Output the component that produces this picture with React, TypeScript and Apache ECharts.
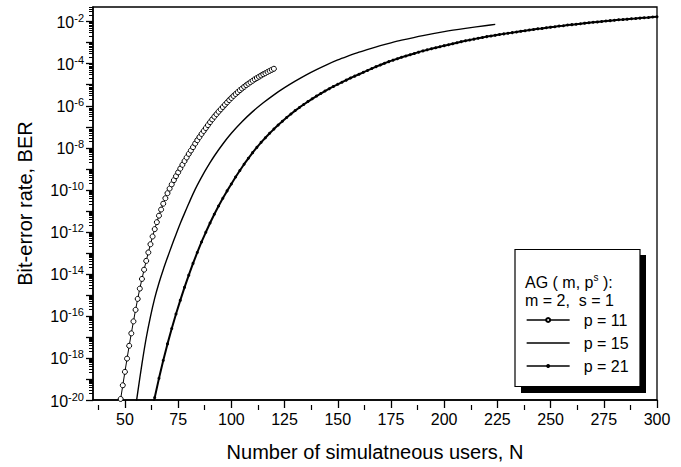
import React, { useEffect, useRef } from "react";
import * as echarts from "echarts";

// ---- data (log10 of BER) ----
const p11N = [48,49,50,51,52,53,54,55,56,57,58,59,60,61,62,63,64,65,66,67,68,69,70,71,72,73,74,75,76,77,78,79,80,81,82,83,84,85,86,87,88,89,90,91,92,93,94,95,96,97,98,99,100,101,102,103,104,105,106,107,108,109,110,111,112,113,114,115,116,117,118,119,120];
const p11LogBer = [-19.95,-19.30,-18.66,-18.03,-17.42,-16.83,-16.26,-15.71,-15.19,-14.70,-14.24,-13.80,-13.38,-12.98,-12.59,-12.22,-11.87,-11.54,-11.23,-10.94,-10.66,-10.40,-10.16,-9.94,-9.74,-9.54,-9.35,-9.17,-8.99,-8.81,-8.63,-8.46,-8.29,-8.13,-7.97,-7.80,-7.64,-7.49,-7.34,-7.20,-7.06,-6.92,-6.78,-6.65,-6.52,-6.40,-6.28,-6.17,-6.06,-5.95,-5.84,-5.73,-5.63,-5.53,-5.44,-5.35,-5.26,-5.18,-5.10,-5.02,-4.95,-4.88,-4.81,-4.74,-4.68,-4.62,-4.56,-4.50,-4.45,-4.39,-4.34,-4.29,-4.24];

const p15N = [55,56,58,60,62,64,66,68,70,72,74,76,78,80,83,87,90,92,96,100,105,110,115,120,125,130,135,140,145,150,155,160,165,170,175,180,190,200,210,220,224];
const p15LogBer = [-20.36,-19.65,-18.28,-17.05,-16.03,-15.15,-14.43,-13.80,-13.22,-12.66,-12.12,-11.60,-11.12,-10.65,-9.98,-9.22,-8.71,-8.39,-7.82,-7.31,-6.76,-6.28,-5.86,-5.48,-5.14,-4.83,-4.54,-4.28,-4.04,-3.82,-3.63,-3.45,-3.29,-3.14,-3.005,-2.88,-2.66,-2.475,-2.32,-2.18,-2.13];

const p21N = [62,64,66,68,70,72,74,76,78,80,82,84,86,88,90,92,94,96,98,100,102,104,106,108,110,112,114,116,118,120,122,124,126,128,130,132,134,136,138,140,142,144,146,148,150,152,154,156,158,160,162,164,166,168,170,172,174,176,178,180,182,184,186,188,190,192,194,196,198,200,202,204,206,208,210,212,214,216,218,220,222,224,226,228,230,232,234,236,238,240,242,244,246,248,250,252,254,256,258,260,262,264,266,268,270,272,274,276,278,280,282,284,286,288,290,292,294,296,298,300];
const p21LogBer = [-20.85,-19.88,-18.97,-18.12,-17.33,-16.60,-15.91,-15.26,-14.64,-14.06,-13.50,-12.98,-12.48,-12.02,-11.58,-11.16,-10.77,-10.40,-10.05,-9.72,-9.39,-9.08,-8.78,-8.50,-8.23,-7.98,-7.74,-7.52,-7.31,-7.11,-6.92,-6.74,-6.56,-6.39,-6.23,-6.08,-5.94,-5.80,-5.67,-5.54,-5.42,-5.30,-5.19,-5.08,-4.98,-4.88,-4.78,-4.68,-4.59,-4.50,-4.41,-4.32,-4.23,-4.14,-4.06,-3.98,-3.90,-3.83,-3.76,-3.69,-3.63,-3.57,-3.51,-3.45,-3.39,-3.34,-3.29,-3.24,-3.19,-3.14,-3.10,-3.05,-3.00,-2.95,-2.91,-2.87,-2.83,-2.79,-2.75,-2.71,-2.68,-2.65,-2.61,-2.58,-2.55,-2.52,-2.49,-2.46,-2.43,-2.40,-2.37,-2.34,-2.32,-2.29,-2.26,-2.24,-2.21,-2.19,-2.16,-2.14,-2.12,-2.10,-2.07,-2.05,-2.03,-2.01,-1.99,-1.97,-1.95,-1.93,-1.91,-1.90,-1.88,-1.86,-1.85,-1.83,-1.81,-1.80,-1.78,-1.77];

const seriesNames = ["p = 11", "p = 15", "p = 21"];
const xTickLabels = [50, 75, 100, 125, 150, 175, 200, 225, 250, 275, 300];
const xMinorTicks = [37.5, 62.5, 87.5, 112.5, 137.5, 162.5, 187.5, 212.5, 237.5, 262.5, 287.5];
const yLabelExponents = [-20, -18, -16, -14, -12, -10, -8, -6, -4, -2];
const yDecadeExponents = [-20,-19,-18,-17,-16,-15,-14,-13,-12,-11,-10,-9,-8,-7,-6,-5,-4,-3,-2];

const X_MIN = 35, X_MAX = 300;
const Y_MIN = 1e-20, Y_MAX = 0.05;

const GRID = { left: 93, right: 24, top: 7, bottom: 62 };
const W = 681, H = 467;
const PLOT_W = W - GRID.left - GRID.right;
const PLOT_H = H - GRID.top - GRID.bottom;

const FONT = "'Liberation Sans', Arial, Helvetica, sans-serif";

const toPairs = (ns: number[], logs: number[]) => ns.map((n, i) => [n, Math.pow(10, logs[i])]);

export default function App() {
  const ref = useRef<HTMLDivElement>(null);
  useEffect(() => {
    if (!ref.current) return;
    const chart = echarts.init(ref.current, null, { renderer: "svg" });

    const yMinor: number[] = [];
    for (const e of yDecadeExponents) {
      for (let k = 2; k <= 9; k++) {
        const v = k * Math.pow(10, e);
        if (v <= Y_MAX) yMinor.push(v);
      }
    }
    const yDecades = yDecadeExponents.map((e) => Math.pow(10, e));
    const yLabels = yLabelExponents.map((e) => Math.pow(10, e));

    const baseY = {
      type: "log" as const,
      min: Y_MIN,
      max: Y_MAX,
      logBase: 10,
      splitLine: { show: false },
      minorTick: { show: false },
    };
    const baseX = {
      type: "value" as const,
      min: X_MIN,
      max: X_MAX,
      splitLine: { show: false },
    };

    chart.setOption({
      animation: false,
      backgroundColor: "#fff",
      grid: {
        ...GRID,
        show: true, borderColor: "#000", borderWidth: 1.3, backgroundColor: "transparent",
      },
      xAxis: [
        {
          ...baseX,
          position: "bottom",
          name: "Number of simulatneous users, N",
          nameLocation: "middle",
          nameGap: 42,
          nameTextStyle: { fontSize: 20, color: "#000", fontFamily: FONT },
          axisLine: { show: true, onZero: false, lineStyle: { color: "#000", width: 1.5 } },
          axisTick: { show: true, customValues: xTickLabels, length: 8, lineStyle: { color: "#000", width: 1.3 } },
          axisLabel: { show: true, customValues: xTickLabels, fontSize: 16, color: "#000", fontFamily: FONT, margin: 11 },
        },
        {
          ...baseX,
          position: "top",
          offset: -PLOT_H,
          axisLine: { show: false, onZero: false },
          axisTick: { show: true, inside: true, customValues: xMinorTicks, length: 5, lineStyle: { color: "#000", width: 1.2 } },
          axisLabel: { show: false },
        },
      ],
      yAxis: [
        {
          ...baseY,
          position: "left",
          name: "Bit-error rate, BER",
          nameLocation: "middle",
          nameRotate: 90,
          nameGap: 58,
          nameTextStyle: { fontSize: 20, color: "#000", fontFamily: FONT },
          axisLine: { show: true, onZero: false, lineStyle: { color: "#000", width: 1.5 } },
          axisTick: { show: true, customValues: yDecades, length: 7, lineStyle: { color: "#000", width: 1.3 } },
          axisLabel: {
            show: true,
            customValues: yLabels,
            margin: 9,
            formatter: (v: number) => `{b|10}{s|${Math.round(Math.log10(v))}}`,
            rich: {
              b: { fontSize: 16, color: "#000", fontFamily: FONT, lineHeight: 18, verticalAlign: "bottom" },
              s: { fontSize: 11, color: "#000", fontFamily: FONT, verticalAlign: "top" },
            },
          },
        },
        {
          ...baseY,
          position: "right",
          offset: -PLOT_W,
          axisLine: { show: false, onZero: false },
          axisTick: { show: true, inside: true, customValues: yMinor, length: 4, lineStyle: { color: "#000", width: 1 } },
          axisLabel: { show: false },
        },
      ],
      legend: {
        data: [
          { name: seriesNames[0] },
          { name: seriesNames[1], itemStyle: { opacity: 0 } },
          { name: seriesNames[2] },
        ],
        orient: "vertical",
        left: 526,
        top: 312,
        z: 20,
        padding: 0,
        itemWidth: 43,
        itemHeight: 5,
        itemGap: 7,
        lineStyle: { width: 1.3, color: "#000" },
        textStyle: { fontSize: 16, color: "#000", fontFamily: FONT, lineHeight: 16, padding: [0, 0, 0, 9] },
      },
      graphic: [
        { type: "rect", shape: { x: 521, y: 255, width: 125, height: 138 }, style: { fill: "#000" }, z: 5, silent: true },
        { type: "rect", shape: { x: 515, y: 249.5, width: 125, height: 137 }, style: { fill: "#fff", stroke: "#000", lineWidth: 1.2 }, z: 6, silent: true },
        {
          type: "text", x: 525, y: 281, z: 7, silent: true,
          style: {
            text: "{a|AG ( m, p}{s|s}{a| ):}",
            verticalAlign: "middle",
            rich: {
              a: { fontSize: 16, fill: "#000", fontFamily: FONT, lineHeight: 18, verticalAlign: "bottom" },
              s: { fontSize: 10, fill: "#000", fontFamily: FONT, verticalAlign: "top" },
            },
          },
        },
        {
          type: "text", x: 525, y: 300, z: 7, silent: true,
          style: { text: "m = 2,  s = 1", fontSize: 16, fill: "#000", fontFamily: FONT, verticalAlign: "middle" },
        },
      ],
      series: [
        {
          name: seriesNames[0],
          type: "line",
          data: toPairs(p11N, p11LogBer),
          symbol: "circle",
          symbolSize: 5,
          showSymbol: true,
          showAllSymbol: true,
          lineStyle: { color: "#000", width: 1 },
          itemStyle: { color: "#fff", borderColor: "#000", borderWidth: 1 },
          z: 3,
        },
        {
          name: seriesNames[1],
          type: "line",
          data: toPairs(p15N, p15LogBer),
          symbol: "none",
          smooth: 0.3,
          lineStyle: { color: "#000", width: 1.4 },
          itemStyle: { color: "#000" },
          z: 3,
        },
        {
          name: seriesNames[2],
          type: "line",
          data: toPairs(p21N, p21LogBer),
          symbol: "circle",
          symbolSize: 3,
          showSymbol: true,
          showAllSymbol: true,
          lineStyle: { color: "#000", width: 2 },
          itemStyle: { color: "#000" },
          z: 3,
        },
      ],
    });
    return () => chart.dispose();
  }, []);
  return <div ref={ref} style={{ position: "absolute", left: 0, top: 0, width: W, height: H, background: "#fff" }} />;
}
